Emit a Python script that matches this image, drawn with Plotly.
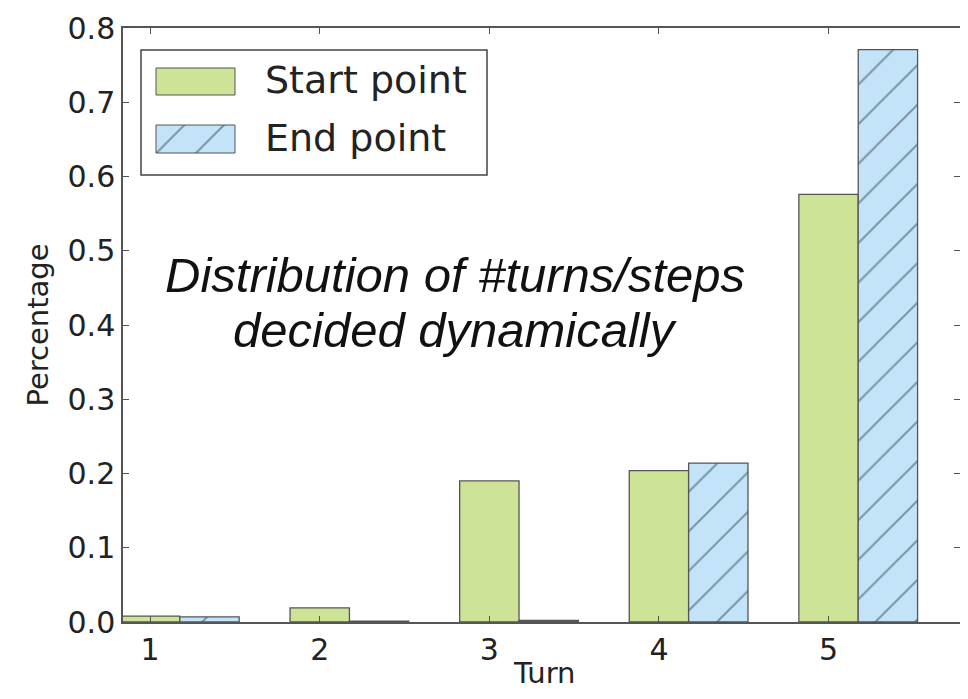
import plotly.graph_objects as go

turns = [1, 2, 3, 4, 5]
start_point = [0.008, 0.019, 0.190, 0.204, 0.576]
end_point = [0.007, 0.001, 0.002, 0.214, 0.771]
series_names = ["Start point", "End point"]
y_ticks = [0.0, 0.1, 0.2, 0.3, 0.4, 0.5, 0.6, 0.7, 0.8]
note_lines = ["Distribution of #turns/steps", "decided dynamically"]
x_title = "Turn"
y_title = "Percentage"

GREEN = "#cde497"
BLUE = "#c3e4f8"
EDGE = "#555555"
HATCH = "#34424c"
BAR_W = 0.35

# page has an 8px body margin; figure sized to fit the 968x699 window
W, H = 952, 683
L, T, B, R = 115, 20, 69, 0
PW, PH = W - L - R, H - T - B


def px(xp):  # page x -> paper
    return (xp - 8 - L) / PW


def py(yp):  # page y -> paper
    return (H - B - (yp - 8)) / PH


fig = go.Figure()
fig.add_trace(go.Bar(
    x=turns, y=start_point, name=series_names[0], width=BAR_W, offset=-BAR_W / 2,
    marker=dict(color=GREEN, line=dict(color=EDGE, width=1.3)), showlegend=False,
))
fig.add_trace(go.Bar(
    x=turns, y=end_point, name=series_names[1], width=BAR_W, offset=BAR_W / 2,
    marker=dict(color=BLUE, line=dict(color=EDGE, width=1.3),
                pattern=dict(shape="/", fgcolor=HATCH, bgcolor=BLUE, size=28, solidity=0.07)),
    showlegend=False,
))

# manual legend (paper-like overlay axes)
gx0, gx1 = px(156), px(235)
fig.add_trace(go.Scatter(
    x=[gx0, gx1, gx1, gx0, gx0], y=[py(95), py(95), py(68), py(68), py(95)],
    xaxis="x2", yaxis="y2", mode="lines", fill="toself", fillcolor=GREEN,
    line=dict(color=EDGE, width=1), showlegend=False, hoverinfo="skip",
))
fig.add_trace(go.Scatter(
    x=[gx0, gx1, gx1, gx0, gx0], y=[py(153), py(153), py(125), py(125), py(153)],
    xaxis="x2", yaxis="y2", mode="lines", fill="toself", fillcolor=BLUE,
    fillpattern=dict(shape="/", fgcolor=HATCH, bgcolor=BLUE, size=28, solidity=0.07),
    line=dict(color=EDGE, width=1), showlegend=False, hoverinfo="skip",
))

fig.add_shape(type="rect", xref="paper", yref="paper", x0=px(141), x1=px(487), y0=py(175), y1=py(50),
              line=dict(color="#444444", width=1.5), fillcolor="rgba(0,0,0,0)")
for name, yc in zip(series_names, [py(80), py(138)]):
    fig.add_annotation(xref="paper", yref="paper", x=px(263), y=yc, text=name, showarrow=False,
                       xanchor="left", yanchor="middle",
                       font=dict(family="DejaVu Sans", size=38, color="#222222"))

for line, yc in zip(note_lines, [py(275), py(330)]):
    fig.add_annotation(xref="paper", yref="paper", x=px(455), y=yc, text="<i>" + line + "</i>",
                       showarrow=False, xanchor="center", yanchor="middle",
                       font=dict(family="Liberation Sans", size=49, color="#111111"))

# x-axis title placed low, as in the reference
fig.add_annotation(xref="paper", yref="paper", x=px(544), y=-B / PH, yshift=-1, text=x_title,
                   showarrow=False, xanchor="center", yanchor="bottom",
                   font=dict(family="DejaVu Sans", size=29, color="#222222"))

axis_common = dict(showline=True, linecolor=EDGE, linewidth=1.5, mirror="ticks",
                   ticks="inside", ticklen=6, tickcolor=EDGE, showgrid=False, zeroline=False,
                   automargin=False,
                   tickfont=dict(family="DejaVu Sans", size=30, color="#222222"))

fig.update_layout(
    width=W, height=H,
    margin=dict(l=L, r=R, t=T, b=B),
    paper_bgcolor="white", plot_bgcolor="white",
    barmode="overlay",
    xaxis=dict(range=[0.84, 0.84 + PW / 169.6], tickvals=turns, ticktext=[str(t) for t in turns],
               **axis_common),
    yaxis=dict(range=[0, 0.8], tickvals=y_ticks, tickformat=".1f",
               title=dict(text=y_title, font=dict(family="DejaVu Sans", size=29, color="#222222"), standoff=10),
               **axis_common),
    xaxis2=dict(range=[0, 1], overlaying="x", visible=False, fixedrange=True),
    yaxis2=dict(range=[0, 1], overlaying="y", visible=False, fixedrange=True),
    showlegend=False,
)

fig.write_html("out.html")
